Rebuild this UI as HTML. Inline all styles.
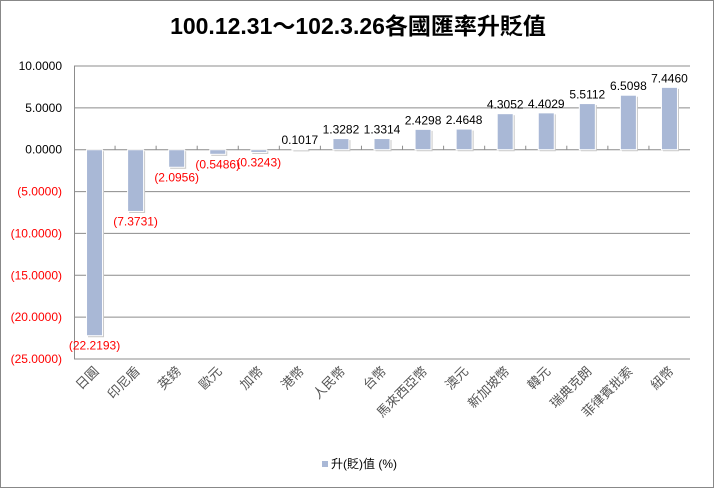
<!DOCTYPE html>
<html><head><meta charset="utf-8">
<style>
html,body{margin:0;padding:0;background:#fff;}
svg{display:block;font-family:"Liberation Sans","Noto Sans CJK SC",sans-serif;}
</style></head>
<body>
<svg width="715" height="489" viewBox="0 0 715 489">
<rect x="0.5" y="0.5" width="713" height="487" fill="#fff" stroke="#888"/>
<text x="358" y="34" text-anchor="middle" font-size="23" font-weight="bold" fill="#000">100.12.31～102.3.26各國匯率升貶值</text>
<g id="grid"></g>
<g id="bars"></g>
<g id="labels"></g>
<g>
<rect x="322" y="461" width="6" height="6" fill="#a9b8d6"/>
<text x="331" y="468" font-size="12" fill="#000">升(貶)值 (%)</text>
</g>
</svg>
<script>
const categories=["日圓","印尼盾","英鎊","歐元","加幣","港幣","人民幣","台幣","馬來西亞幣","澳元","新加坡幣","韓元","瑞典克朗","菲律賓批索","紐幣"];
const values=[-22.2193,-7.3731,-2.0956,-0.5486,-0.3243,0.1017,1.3282,1.3314,2.4298,2.4648,4.3052,4.4029,5.5112,6.5098,7.4460];
const valueLabels=["(22.2193)","(7.3731)","(2.0956)","(0.5486)","(0.3243)","0.1017","1.3282","1.3314","2.4298","2.4648","4.3052","4.4029","5.5112","6.5098","7.4460"];
const yTicks=[10,5,0,-5,-10,-15,-20,-25];
const yTickLabels=["10.0000","5.0000","0.0000","(5.0000)","(10.0000)","(15.0000)","(20.0000)","(25.0000)"];

const NS="http://www.w3.org/2000/svg";
const X0=74,X1=690,Y0=66,Y1=359,YMAX=10,YMIN=-25;
const y=v=>Y0+(YMAX-v)/(YMAX-YMIN)*(Y1-Y0);
const step=(X1-X0)/categories.length;
const xc=i=>X0+step*(i+0.5);
function mk(tag,attrs,parent){const e=document.createElementNS(NS,tag);for(const k in attrs)e.setAttribute(k,attrs[k]);parent.appendChild(e);return e;}
const grid=document.getElementById('grid'),bars=document.getElementById('bars'),labels=document.getElementById('labels');

yTicks.forEach((t,i)=>{
  const g=mk('line',{x1:X0,x2:X1,y1:y(t),y2:y(t),stroke:'#8c8c8c','stroke-width':1},grid);
  
  
  const tx=mk('text',{x:62,y:y(t)+4,'text-anchor':'end','font-size':12,fill:t<0?'#ff0000':'#000'},labels);
  tx.textContent=yTickLabels[i];
  
  
});
const ax=mk('line',{x1:X0+0.5,x2:X0+0.5,y1:Y0,y2:Y1,stroke:'#8c8c8c'},grid);


for(let i=1;i<categories.length;i++){
  const tk=mk('line',{x1:X0+step*i,x2:X0+step*i,y1:y(0)-4,y2:y(0),stroke:'#8c8c8c'},grid);
  
  
}
const bw=16;
values.forEach((v,i)=>{
  const top=Math.min(y(v),y(0)),h=Math.max(Math.abs(y(v)-y(0)),1);
  const sh=mk('rect',{x:xc(i)-bw/2+1.5,y:top+1.5,width:bw,height:h,fill:'#c8c8c8'},bars);
  
  
  const b=mk('rect',{x:xc(i)-bw/2,y:top,width:bw,height:h,fill:'#a9b8d6',stroke:'#fff','stroke-width':1},bars);
  
  
  const vl=mk('text',{x:xc(i),y:v<0?y(v)+14:y(v)-5,'text-anchor':'middle','font-size':12,fill:v<0?'#ff0000':'#000'},labels);
  vl.textContent=valueLabels[i];
  
  
  const cl=mk('text',{x:0,y:0,'text-anchor':'end','font-size':13,fill:'#555','font-family':'"Noto Sans CJK SC",sans-serif',transform:`translate(${xc(i)+5},${Y1+13}) rotate(-45)`},labels);
  cl.textContent=categories[i];
  
  
});
</script>
</body></html>
